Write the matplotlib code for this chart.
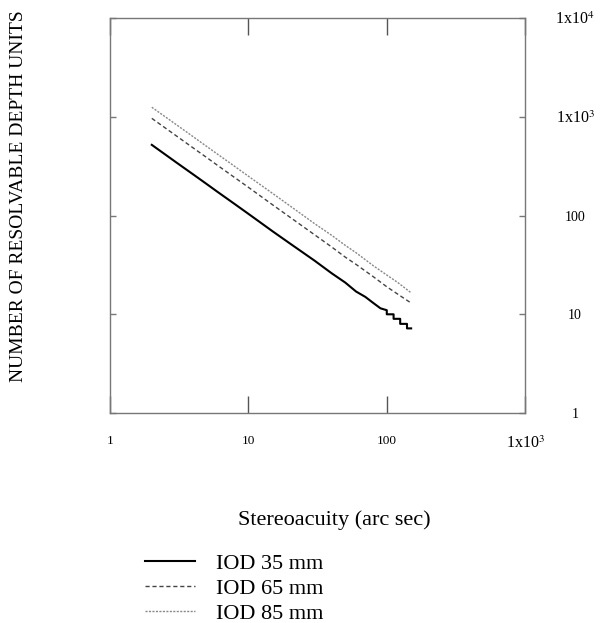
import matplotlib
matplotlib.use('Agg')
import matplotlib.pyplot as plt
from matplotlib.ticker import FixedLocator, NullLocator

plt.rcParams['font.family'] = ['Liberation Serif', 'DejaVu Serif']
plt.rcParams['mathtext.fontset'] = 'stix'

# stereoacuity (arc sec) vs number of resolvable depth units
acuity_35 = [2, 3, 4, 5, 6, 8, 10, 15, 20, 30, 40, 50, 60, 70, 80, 90,
             100, 100, 112, 112, 125, 125, 140, 140, 150]
units_35 = [520, 346, 260, 208, 173, 130, 104, 69, 52, 35, 26, 21, 17, 15, 13, 11.5,
            11, 10, 10, 9, 9, 8, 8, 7.2, 7.2]

acuity_65 = [2, 3, 4, 5, 6, 8, 10, 15, 20, 30, 40, 50, 60, 80, 100, 120, 150]
units_65 = [965, 643, 482, 386, 321, 241, 193, 128, 96, 64, 48, 38, 32, 24, 19, 16, 13]

acuity_85 = [2, 3, 4, 5, 6, 8, 10, 15, 20, 30, 40, 50, 60, 80, 100, 120, 150]
units_85 = [1250, 835, 626, 500, 417, 313, 250, 167, 125, 83, 63, 50, 42, 31, 25, 21, 16.5]

x_ticks = [1, 10, 100, 1000]
x_labels = ['1', '10', '100', r'1x10$^{3}$']
y_ticks = [1, 10, 100, 1000, 10000]
y_labels = ['1', '10', '100', r'1x10$^{3}$', r'1x10$^{4}$']

fig = plt.figure(figsize=(6.12, 6.23), dpi=100)
ax = fig.add_axes([0.180, 0.337, 0.678, 0.634])

l35, = ax.plot(acuity_35, units_35, color='black', lw=1.5, label='IOD 35 mm')
l65, = ax.plot(acuity_65, units_65, color='#444444', lw=1.0,
               linestyle=(0, (3, 2)), label='IOD 65 mm')
l85, = ax.plot(acuity_85, units_85, color='#888888', lw=1.0,
               linestyle=(0, (1.5, 1)), label='IOD 85 mm')

ax.set_xscale('log')
ax.set_yscale('log')
ax.set_xlim(1, 1000)
ax.set_ylim(1, 10000)

for s in ax.spines.values():
    s.set_color('#777777')
    s.set_linewidth(1.0)

ax.xaxis.set_major_locator(FixedLocator(x_ticks))
ax.xaxis.set_minor_locator(NullLocator())
ax.yaxis.set_major_locator(FixedLocator(y_ticks))
ax.yaxis.set_minor_locator(NullLocator())
ax.set_xticklabels(x_labels)
ax.set_yticklabels(y_labels, ha='center')

ax.tick_params(axis='x', which='major', direction='in', length=12, width=1,
               color='#555555', top=True, bottom=True, labelsize=9.5, pad=16)
ax.tick_params(axis='y', which='major', direction='in', length=4, width=1,
               color='#777777', left=True, right=True, labelleft=False,
               labelright=True, labelsize=10, pad=36)
for lbl in ax.get_xticklabels()[-1:] + ax.get_yticklabels()[-2:]:
    lbl.set_fontsize(11.5)

ax.set_xlabel('Stereoacuity (arc sec)', fontsize=16, labelpad=42)
ax.xaxis.label.set_x(0.54)
fig.text(0.030, 0.685, 'NUMBER OF RESOLVABLE DEPTH UNITS', rotation=90,
         fontsize=14, ha='center', va='center')

fig.legend(handles=[l35, l65, l85], loc='lower left',
           bbox_to_anchor=(0.237, -0.002), frameon=False, fontsize=16,
           handlelength=2.25, handletextpad=0.95, labelspacing=0.2,
           borderpad=0, borderaxespad=0)

fig.savefig('out.png', dpi=100)
